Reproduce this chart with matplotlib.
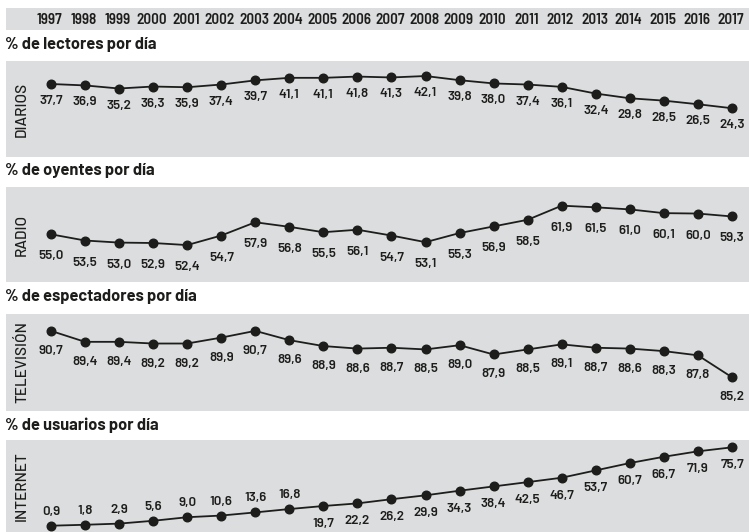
import matplotlib
matplotlib.use("Agg")
import matplotlib.pyplot as plt

years = list(range(1997, 2018))
diarios = [37.7, 36.9, 35.2, 36.3, 35.9, 37.4, 39.7, 41.1, 41.1, 41.8, 41.3,
           42.1, 39.8, 38.0, 37.4, 36.1, 32.4, 29.8, 28.5, 26.5, 24.3]
radio = [55.0, 53.5, 53.0, 52.9, 52.4, 54.7, 57.9, 56.8, 55.5, 56.1, 54.7,
         53.1, 55.3, 56.9, 58.5, 61.9, 61.5, 61.0, 60.1, 60.0, 59.3]
television = [90.7, 89.4, 89.4, 89.2, 89.2, 89.9, 90.7, 89.6, 88.9, 88.6, 88.7,
              88.5, 89.0, 87.9, 88.5, 89.1, 88.7, 88.6, 88.3, 87.8, 85.2]
internet = [0.9, 1.8, 2.9, 5.6, 9.0, 10.6, 13.6, 16.8, 19.7, 22.2, 26.2,
            29.9, 34.3, 38.4, 42.5, 46.7, 53.7, 60.7, 66.7, 71.9, 75.7]

media = ["DIARIOS", "RADIO", "TELEVISIÓN", "INTERNET"]
titles = ["% de lectores por día", "% de oyentes por día",
          "% de espectadores por día", "% de usuarios por día"]
series = [diarios, radio, television, internet]

W, H = 749, 532
BG = "#dcdddf"
INK = "#1d1d1b"
COND = ["Barlow Semi Condensed", "DejaVu Sans"]
WIDE = ["Barlow", "DejaVu Sans"]

fig = plt.figure(figsize=(W / 100, H / 100), dpi=100)
fig.patch.set_facecolor("white")

def fx(px):
    return px / W

def fy(py):
    return 1 - py / H

left_px, right_px = 6, 749
xlim = (1995.68, 2017.5)

# year header band
axy = fig.add_axes([fx(left_px), fy(30), fx(right_px - left_px), 22 / H])
axy.set_xlim(*xlim)
axy.set_ylim(0, 1)
axy.axis("off")
axy.add_patch(plt.Rectangle((0, 0), 1, 1, transform=axy.transAxes,
                            facecolor=BG, edgecolor="none", zorder=0))
for yr in years:
    axy.text(yr - 0.04, 0.5, str(yr), ha="center", va="center_baseline",
             fontsize=10.8, family=COND, weight="semibold", color=INK)

# panel layout in pixels: (top, bottom), title y, ylim, label offsets
panels = [
    dict(top=61, bot=157, ty=45, ylim=(-2.65, 50.4), below=17, above=None),
    dict(top=187, bot=282, ty=170, ylim=(43.5, 66.4), below=22, above=None),
    dict(top=314, bot=411, ty=297, ylim=(81.2, 92.7), below=20, above=None),
    dict(top=440, bot=532, ty=425, ylim=(-5.1, 82.7), below=18, above=14),
]

label_x = (22 - left_px) / (right_px - left_px)

for name, title, vals, p in zip(media, titles, series, panels):
    ax = fig.add_axes([fx(left_px), fy(p["bot"]), fx(right_px - left_px),
                       (p["bot"] - p["top"]) / H])
    ax.set_facecolor(BG)
    ax.set_xlim(*xlim)
    ax.set_ylim(*p["ylim"])
    for s in ax.spines.values():
        s.set_visible(False)
    ax.set_xticks([])
    ax.set_yticks([])
    ax.plot(years, vals, color=INK, lw=1.3, marker="o", ms=6.2,
            markerfacecolor=INK, markeredgecolor=INK, zorder=3)
    for yr, v in zip(years, vals):
        lab = f"{v:.1f}".replace(".", ",")
        if p["above"] is not None and v < 18:
            dy = p["above"]
        else:
            dy = -p["below"]
        ax.annotate(lab, (yr, v), xytext=(0, dy), textcoords="offset pixels",
                    ha="center", va="center", fontsize=9.6, family=WIDE,
                    weight="semibold", color=INK)
    ax.text(label_x, 0.5, name, transform=ax.transAxes, rotation=90,
            ha="center", va="center", fontsize=11, family=WIDE,
            weight="medium", color=INK)
    fig.text(fx(5), fy(p["ty"]), title, ha="left", va="center",
             fontsize=11.8, family=WIDE, weight="bold", color=INK)

fig.savefig("out.png", dpi=100, facecolor="white")
